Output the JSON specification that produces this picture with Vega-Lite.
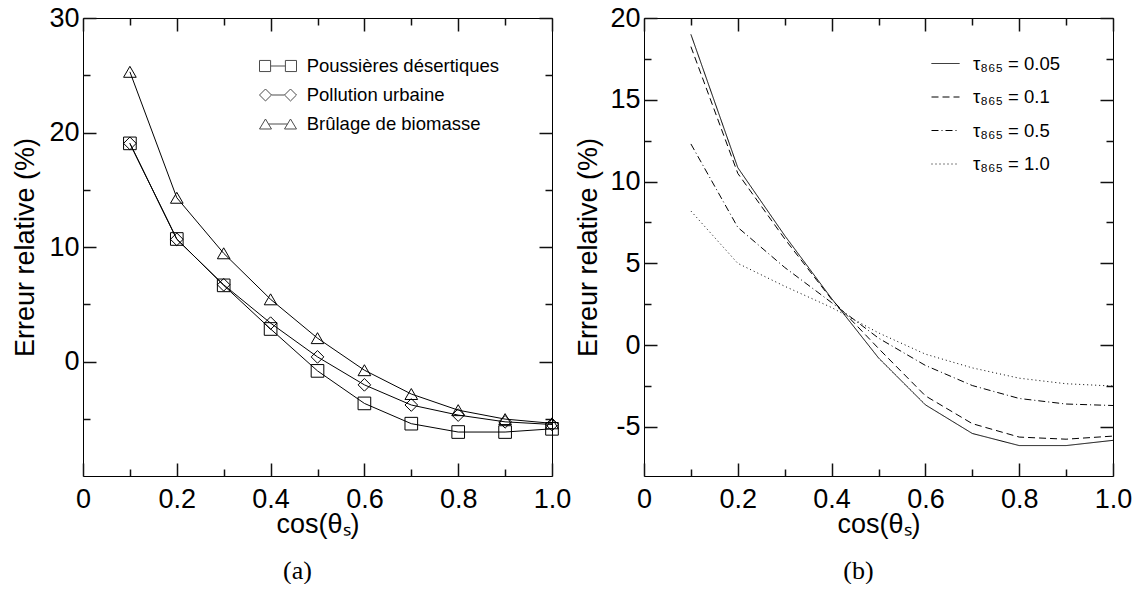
{
  "$schema": "https://vega.github.io/schema/vega-lite/v6.json",
  "padding": {"left": 11, "top": 3, "right": 0, "bottom": 0},
  "spacing": 2,
  "config": {
    "font": "Liberation Sans",
    "view": {"stroke": "black", "strokeWidth": 1},
    "axis": {
      "domain": false, "grid": false, "ticks": true, "zindex": 1,
      "labelFont": "Liberation Sans", "labelFontSize": 27, "labelColor": "black",
      "titleFont": "Liberation Sans", "titleFontSize": 27, "titleFontWeight": "normal", "titleColor": "black",
      "tickColor": "#111", "tickWidth": 1.5, "tickOpacity": 1, "labelFlush": false, "labelOverlap": false
    },
    "legend": {"padding": 0, "labelFont": "Liberation Sans", "labelColor": "black", "labelFontSize": 18.5, "labelLimit": 400}
  },
  "resolve": {"scale": {"shape": "independent", "strokeDash": "independent"}, "legend": {"shape": "independent", "strokeDash": "independent"}},
  "datasets": {
    "a": [
      {"c": 0.1, "v": 19.05, "t": "Poussières désertiques"},
      {"c": 0.2, "v": 10.7, "t": "Poussières désertiques"},
      {"c": 0.3, "v": 6.65, "t": "Poussières désertiques"},
      {"c": 0.4, "v": 2.84, "t": "Poussières désertiques"},
      {"c": 0.5, "v": -0.82, "t": "Poussières désertiques"},
      {"c": 0.6, "v": -3.66, "t": "Poussières désertiques"},
      {"c": 0.7, "v": -5.43, "t": "Poussières désertiques"},
      {"c": 0.8, "v": -6.16, "t": "Poussières désertiques"},
      {"c": 0.9, "v": -6.16, "t": "Poussières désertiques"},
      {"c": 1.0, "v": -5.88, "t": "Poussières désertiques"},
      {"c": 0.1, "v": 19.05, "t": "Pollution urbaine"},
      {"c": 0.2, "v": 10.67, "t": "Pollution urbaine"},
      {"c": 0.3, "v": 6.7, "t": "Pollution urbaine"},
      {"c": 0.4, "v": 3.35, "t": "Pollution urbaine"},
      {"c": 0.5, "v": 0.4, "t": "Pollution urbaine"},
      {"c": 0.6, "v": -2.04, "t": "Pollution urbaine"},
      {"c": 0.7, "v": -3.8, "t": "Pollution urbaine"},
      {"c": 0.8, "v": -4.68, "t": "Pollution urbaine"},
      {"c": 0.9, "v": -5.27, "t": "Pollution urbaine"},
      {"c": 1.0, "v": -5.5, "t": "Pollution urbaine"},
      {"c": 0.1, "v": 25.3, "t": "Brûlage de biomasse"},
      {"c": 0.2, "v": 14.3, "t": "Brûlage de biomasse"},
      {"c": 0.3, "v": 9.45, "t": "Brûlage de biomasse"},
      {"c": 0.4, "v": 5.43, "t": "Brûlage de biomasse"},
      {"c": 0.5, "v": 2.04, "t": "Brûlage de biomasse"},
      {"c": 0.6, "v": -0.76, "t": "Brûlage de biomasse"},
      {"c": 0.7, "v": -2.84, "t": "Brûlage de biomasse"},
      {"c": 0.8, "v": -4.25, "t": "Brûlage de biomasse"},
      {"c": 0.9, "v": -5.03, "t": "Brûlage de biomasse"},
      {"c": 1.0, "v": -5.4, "t": "Brûlage de biomasse"}
    ],
    "b": [
      {"c": 0.1, "v": 19.0, "k": "τ₈₆₅ = 0.05"},
      {"c": 0.2, "v": 10.85, "k": "τ₈₆₅ = 0.05"},
      {"c": 0.3, "v": 6.7, "k": "τ₈₆₅ = 0.05"},
      {"c": 0.4, "v": 2.85, "k": "τ₈₆₅ = 0.05"},
      {"c": 0.5, "v": -0.78, "k": "τ₈₆₅ = 0.05"},
      {"c": 0.6, "v": -3.65, "k": "τ₈₆₅ = 0.05"},
      {"c": 0.7, "v": -5.4, "k": "τ₈₆₅ = 0.05"},
      {"c": 0.8, "v": -6.14, "k": "τ₈₆₅ = 0.05"},
      {"c": 0.9, "v": -6.14, "k": "τ₈₆₅ = 0.05"},
      {"c": 1.0, "v": -5.82, "k": "τ₈₆₅ = 0.05"},
      {"c": 0.1, "v": 18.25, "k": "τ₈₆₅ = 0.1"},
      {"c": 0.2, "v": 10.5, "k": "τ₈₆₅ = 0.1"},
      {"c": 0.3, "v": 6.5, "k": "τ₈₆₅ = 0.1"},
      {"c": 0.4, "v": 2.8, "k": "τ₈₆₅ = 0.1"},
      {"c": 0.5, "v": -0.2, "k": "τ₈₆₅ = 0.1"},
      {"c": 0.6, "v": -3.1, "k": "τ₈₆₅ = 0.1"},
      {"c": 0.7, "v": -4.8, "k": "τ₈₆₅ = 0.1"},
      {"c": 0.8, "v": -5.62, "k": "τ₈₆₅ = 0.1"},
      {"c": 0.9, "v": -5.75, "k": "τ₈₆₅ = 0.1"},
      {"c": 1.0, "v": -5.56, "k": "τ₈₆₅ = 0.1"},
      {"c": 0.1, "v": 12.3, "k": "τ₈₆₅ = 0.5"},
      {"c": 0.2, "v": 7.2, "k": "τ₈₆₅ = 0.5"},
      {"c": 0.3, "v": 4.75, "k": "τ₈₆₅ = 0.5"},
      {"c": 0.4, "v": 2.6, "k": "τ₈₆₅ = 0.5"},
      {"c": 0.5, "v": 0.43, "k": "τ₈₆₅ = 0.5"},
      {"c": 0.6, "v": -1.24, "k": "τ₈₆₅ = 0.5"},
      {"c": 0.7, "v": -2.47, "k": "τ₈₆₅ = 0.5"},
      {"c": 0.8, "v": -3.26, "k": "τ₈₆₅ = 0.5"},
      {"c": 0.9, "v": -3.6, "k": "τ₈₆₅ = 0.5"},
      {"c": 1.0, "v": -3.69, "k": "τ₈₆₅ = 0.5"},
      {"c": 0.1, "v": 8.2, "k": "τ₈₆₅ = 1.0"},
      {"c": 0.2, "v": 5.0, "k": "τ₈₆₅ = 1.0"},
      {"c": 0.3, "v": 3.6, "k": "τ₈₆₅ = 1.0"},
      {"c": 0.4, "v": 2.3, "k": "τ₈₆₅ = 1.0"},
      {"c": 0.5, "v": 0.75, "k": "τ₈₆₅ = 1.0"},
      {"c": 0.6, "v": -0.55, "k": "τ₈₆₅ = 1.0"},
      {"c": 0.7, "v": -1.39, "k": "τ₈₆₅ = 1.0"},
      {"c": 0.8, "v": -2.02, "k": "τ₈₆₅ = 1.0"},
      {"c": 0.9, "v": -2.36, "k": "τ₈₆₅ = 1.0"},
      {"c": 1.0, "v": -2.5, "k": "τ₈₆₅ = 1.0"}
    ]
  },
  "hconcat": [
    {
      "width": 469, "height": 458,
      "data": {"name": "a"},
      "title": {"text": "(a)", "orient": "bottom", "font": "Liberation Serif", "fontSize": 26, "fontWeight": "normal", "color": "black", "offset": 20, "dx": -20, "anchor": "middle", "frame": "group"},
      "layer": [
        {
          "mark": {"type": "line", "color": "black", "strokeWidth": 1},
          "encoding": {
            "x": {"field": "c", "type": "quantitative", "scale": {"domain": [0, 1]},
              "axis": {"orient": "bottom", "values": [0, 0.2, 0.4, 0.6, 0.8, 1], "offset": -13, "tickSize": 13, "labelPadding": 10.5, "title": "cos(θₛ)", "titlePadding": -1,
                "labelExpr": "datum.value === 0 ? '0' : format(datum.value, '.1f')"}},
            "y": {"field": "v", "type": "quantitative", "scale": {"domain": [-7, 30]},
              "axis": {"orient": "left", "values": [0, 10, 20, 30], "offset": -13, "tickSize": 13, "labelPadding": 4, "title": "Erreur relative (%)", "titlePadding": 9,
                "labelExpr": "datum.value < 0 ? '-' + abs(datum.value) : '' + datum.value"}},
            "detail": {"field": "t"}
          }
        },
        {
          "mark": {"type": "point", "filled": false, "color": "black", "strokeWidth": 1, "opacity": 1, "size": 160},
          "encoding": {
            "x": {"field": "c", "type": "quantitative", "axis": null},
            "y": {"field": "v", "type": "quantitative", "axis": null},
            "shape": {"field": "t", "type": "nominal",
              "scale": {"domain": ["Poussières désertiques", "Pollution urbaine", "Brûlage de biomasse"], "range": ["square", "diamond", "triangle-up"]},
              "legend": null}
          }
        },
        {
          "transform": [{"filter": "datum.c > 5"}],
          "mark": {"type": "point", "filled": false, "color": "black", "strokeWidth": 1},
          "encoding": {
            "x": {"field": "c", "type": "quantitative", "axis": null},
            "y": {"field": "v", "type": "quantitative", "axis": null},
            "shape": {"field": "t", "type": "nominal",
              "scale": {"domain": ["Poussières désertiques", "Pollution urbaine", "Brûlage de biomasse"],
                "range": [
                  "M-1,-0.3H-0.4V0.3H-1Z M-0.4,0H0.4 M0.4,-0.3H1V0.3H0.4Z",
                  "M-1,0L-0.676,-0.324L-0.352,0L-0.676,0.324Z M-0.352,0H0.352 M0.352,0L0.676,-0.324L1,0L0.676,0.324Z",
                  "M-1,0.27L-0.676,-0.27L-0.352,0.27Z M-0.514,0H0.514 M0.352,0.27L0.676,-0.27L1,0.27Z"
                ]},
              "legend": {"orient": "none", "legendX": 176, "legendY": 29, "title": null, "symbolSize": 1369, "symbolStrokeWidth": 1, "symbolStrokeColor": "black", "symbolFillColor": "transparent", "labelOffset": 9.7, "rowPadding": -5}}
          }
        },
        {
          "mark": {"type": "point", "opacity": 0},
          "encoding": {
            "x": {"field": "c", "type": "quantitative", "axis": {"orient": "bottom", "values": [0.1, 0.3, 0.5, 0.7, 0.9], "offset": -7, "tickSize": 7, "labels": false, "title": null}},
            "y": {"field": "v", "type": "quantitative", "axis": {"orient": "left", "values": [-5, 5, 15, 25], "offset": -7, "tickSize": 7, "labels": false, "title": null}}
          }
        },
        {
          "mark": {"type": "point", "opacity": 0},
          "encoding": {
            "x": {"field": "c", "type": "quantitative", "axis": {"orient": "top", "values": [0, 0.2, 0.4, 0.6, 0.8, 1], "offset": -13, "tickSize": 13, "labels": false, "title": null}},
            "y": {"field": "v", "type": "quantitative", "axis": {"orient": "right", "values": [0, 10, 20, 30], "offset": -13, "tickSize": 13, "labels": false, "title": null}}
          }
        },
        {
          "mark": {"type": "point", "opacity": 0},
          "encoding": {
            "x": {"field": "c", "type": "quantitative", "axis": {"orient": "top", "values": [0.1, 0.3, 0.5, 0.7, 0.9], "offset": -7, "tickSize": 7, "labels": false, "title": null}},
            "y": {"field": "v", "type": "quantitative", "axis": {"orient": "right", "values": [-5, 5, 15, 25], "offset": -7, "tickSize": 7, "labels": false, "title": null}}
          }
        }
      ],
      "resolve": {"axis": {"x": "independent", "y": "independent"}, "scale": {"shape": "independent"}, "legend": {"shape": "independent"}}
    },
    {
      "width": 469, "height": 458,
      "data": {"name": "b"},
      "title": {"text": "(b)", "orient": "bottom", "font": "Liberation Serif", "fontSize": 26, "fontWeight": "normal", "color": "black", "offset": 20, "dx": -20, "anchor": "middle", "frame": "group"},
      "layer": [
        {
          "mark": {"type": "line", "color": "black", "strokeWidth": 1},
          "encoding": {
            "x": {"field": "c", "type": "quantitative", "scale": {"domain": [0, 1]},
              "axis": {"orient": "bottom", "values": [0, 0.2, 0.4, 0.6, 0.8, 1], "offset": -13, "tickSize": 13, "labelPadding": 10.5, "title": "cos(θₛ)", "titlePadding": -1,
                "labelExpr": "datum.value === 0 ? '0' : format(datum.value, '.1f')"}},
            "y": {"field": "v", "type": "quantitative", "scale": {"domain": [-7, 20]},
              "axis": {"orient": "left", "values": [-5, 0, 5, 10, 15, 20], "offset": -13, "tickSize": 13, "labelPadding": 4, "title": "Erreur relative (%)", "titlePadding": 7,
                "labelExpr": "datum.value < 0 ? '-' + abs(datum.value) : '' + datum.value"}},
            "strokeDash": {"field": "k", "type": "nominal",
              "scale": {"domain": ["τ₈₆₅ = 0.05", "τ₈₆₅ = 0.1", "τ₈₆₅ = 0.5", "τ₈₆₅ = 1.0"], "range": [[1, 0], [7, 4], [7, 3, 1, 3], [1, 3]]},
              "legend": {"orient": "none", "legendX": 287, "legendY": 31, "title": null, "symbolType": "stroke", "symbolSize": 784, "symbolStrokeWidth": 1, "symbolStrokeColor": "black", "labelOffset": 13, "rowPadding": 9.5}}
          }
        },
        {
          "mark": {"type": "point", "opacity": 0},
          "encoding": {
            "x": {"field": "c", "type": "quantitative", "axis": {"orient": "bottom", "values": [0.1, 0.3, 0.5, 0.7, 0.9], "offset": -7, "tickSize": 7, "labels": false, "title": null}},
            "y": {"field": "v", "type": "quantitative", "axis": {"orient": "left", "values": [-2.5, 2.5, 7.5, 12.5, 17.5], "offset": -7, "tickSize": 7, "labels": false, "title": null}}
          }
        },
        {
          "mark": {"type": "point", "opacity": 0},
          "encoding": {
            "x": {"field": "c", "type": "quantitative", "axis": {"orient": "top", "values": [0, 0.2, 0.4, 0.6, 0.8, 1], "offset": -13, "tickSize": 13, "labels": false, "title": null}},
            "y": {"field": "v", "type": "quantitative", "axis": {"orient": "right", "values": [-5, 0, 5, 10, 15, 20], "offset": -13, "tickSize": 13, "labels": false, "title": null}}
          }
        },
        {
          "mark": {"type": "point", "opacity": 0},
          "encoding": {
            "x": {"field": "c", "type": "quantitative", "axis": {"orient": "top", "values": [0.1, 0.3, 0.5, 0.7, 0.9], "offset": -7, "tickSize": 7, "labels": false, "title": null}},
            "y": {"field": "v", "type": "quantitative", "axis": {"orient": "right", "values": [-2.5, 2.5, 7.5, 12.5, 17.5], "offset": -7, "tickSize": 7, "labels": false, "title": null}}
          }
        }
      ],
      "resolve": {"axis": {"x": "independent", "y": "independent"}}
    }
  ]
}
